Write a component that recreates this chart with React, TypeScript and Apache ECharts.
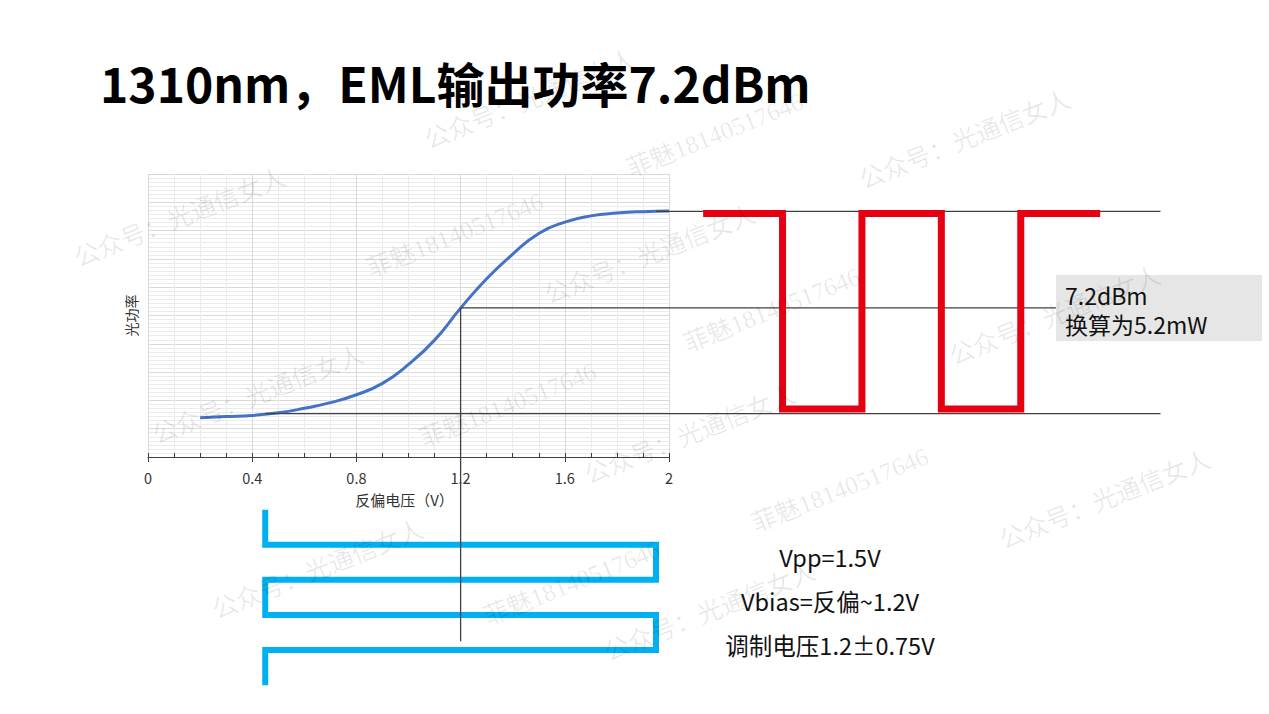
import React, { useEffect, useRef } from "react";
import * as echarts from "echarts";

// ---------- text ----------
const TITLE = "1310nm，EML输出功率7.2dBm";
const X_NAME = "反偏电压（V）";
const Y_NAME = "光功率";
const BOX_LINES = ["7.2dBm", "换算为5.2mW"];
const NOTE_LINES = ["Vpp=1.5V", "Vbias=反偏~1.2V", "调制电压1.2±0.75V"];
const WM_A = "公众号：光通信女人";
const WM_B = "菲魅18140517646";

// ---------- data ----------
// EML transfer curve: reverse bias (V) -> optical power (linear, arbitrary units)
const CURVE_V = [0.2, 0.3, 0.4, 0.5, 0.6, 0.7, 0.8, 0.9, 1.0, 1.1, 1.2, 1.3, 1.4, 1.5, 1.6, 1.7, 1.8, 1.9, 2.0];
const CURVE_P = [1.39, 1.43, 1.47, 1.56, 1.72, 1.92, 2.2, 2.6, 3.27, 4.13, 5.26, 6.3, 7.17, 7.9, 8.3, 8.52, 8.62, 8.67, 8.69];

const X_MIN = 0;
const X_MAX = 2;
const X_INTERVAL = 0.4;
const Y_MIN = 0;
const Y_MAX = 10;

// drive levels (V) and resulting power levels
const V_LOW = 0.45;
const V_BIAS = 1.2;
const V_HIGH = 1.95;
const P_HIGH = 8.68;
const P_MID = 5.27;
const P_LOW = 1.53;

// bit pattern of the waveforms (1 = high optical power)
const BITS = [1, 0, 1, 0, 1];
const RED_HIGH = 8.6;
const RED_LOW = 1.7;

// time-axis extents (in bit periods)
const T_RED_MIN = -0.43;
const T_RED_MAX = 5.76;
const T_BLUE_MIN = -1.5;
const T_BLUE_MAX = 5.2;
const T_CROSS_END = 3.75;

// ---------- layout (pixels) ----------
const WATERMARKS: [string, number, number][] = [
  [WM_A, 180, 218], [WM_A, 258, 395], [WM_A, 318, 570],
  [WM_A, 650, 255], [WM_A, 690, 435], [WM_A, 710, 612],
  [WM_A, 965, 140], [WM_A, 1055, 316], [WM_A, 1105, 500], [WM_A, 530, 100],
  [WM_B, 455, 235], [WM_B, 508, 405], [WM_B, 572, 583],
  [WM_B, 715, 135], [WM_B, 772, 310], [WM_B, 840, 490],
];

const FONT = '"Noto Sans CJK SC", "Noto Sans", sans-serif';
const BLACK_LINE = { color: "#404040", width: 1.3 };

const step = (levels: number[]) => levels.flatMap((v, i) => [[i, v], [i + 1, v]]);

function buildOption(): echarts.EChartsOption {
  const curve = CURVE_V.map((v, i) => [v, CURVE_P[i]]);
  const red = step(BITS.map((b) => (b ? RED_HIGH : RED_LOW)));
  const blue = step(BITS.map((b) => (b ? V_LOW : V_HIGH))).map(([t, v]) => [v, t]);

  const wm = WATERMARKS.map(([text, x, y]) => ({
    type: "text",
    x,
    y,
    rotation: 0.38,
    z: 200,
    silent: true,
    style: {
      text,
      fill: "rgba(0,0,0,0.09)",
      font: `25px "Liberation Serif", "Noto Sans CJK SC", serif`,
      align: "center",
      verticalAlign: "middle",
    },
  }));

  return {
    animation: false,
    backgroundColor: "#ffffff",
    textStyle: { fontFamily: FONT },
    grid: [
      { left: 148, top: 174, width: 521, height: 283, containLabel: false, outerBoundsMode: "none" } as any,
      { left: 669, top: 174, width: 491.5, height: 283, containLabel: false, outerBoundsMode: "none" } as any,
      { left: 148, top: 457, width: 521, height: 235.2, containLabel: false, outerBoundsMode: "none" } as any,
    ],
    xAxis: [
      {
        type: "value",
        gridIndex: 0,
        position: "bottom",
        min: X_MIN,
        max: X_MAX,
        interval: X_INTERVAL,
        name: X_NAME,
        nameLocation: "middle",
        nameGap: 35,
        nameMoveOverlap: false,
        nameTextStyle: { fontSize: 15, color: "#333333", fontFamily: FONT, padding: [0, 8, 0, 0] },
        axisLine: { show: true, lineStyle: { color: "#404040", width: 1 } },
        axisTick: { show: true, inside: true, length: 4, lineStyle: { color: "#404040" } },
        minorTick: { show: true, splitNumber: 4, length: 4, lineStyle: { color: "#404040" } },
        axisLabel: { show: true, fontSize: 14.5, color: "#333333", margin: 13, fontFamily: FONT },
        splitLine: { show: true, lineStyle: { color: "#d9d9d9", width: 1 } },
        minorSplitLine: { show: true, lineStyle: { color: "#ececec", width: 1 } },
      } as any,
      {
        type: "value",
        gridIndex: 0,
        position: "bottom",
        offset: 0,
        min: X_MIN,
        max: X_MAX,
        interval: X_INTERVAL,
        axisLine: { show: false },
        axisTick: { show: true, inside: false, length: 5, lineStyle: { color: "#404040" } },
        axisLabel: { show: false },
        splitLine: { show: false },
      },
      { type: "value", gridIndex: 1, min: T_RED_MIN, max: T_RED_MAX, show: false },
      { type: "value", gridIndex: 2, min: X_MIN, max: X_MAX, show: false },
    ],
    yAxis: [
      {
        type: "value",
        gridIndex: 0,
        min: Y_MIN,
        max: Y_MAX,
        interval: 1,
        name: Y_NAME,
        nameLocation: "middle",
        nameGap: 10,
        nameMoveOverlap: false,
        nameTextStyle: { fontSize: 14, color: "#333333", fontFamily: FONT },
        axisLine: { show: false },
        axisTick: { show: false },
        axisLabel: { show: false },
        minorTick: { show: false, splitNumber: 7 },
        splitLine: { show: true, lineStyle: { color: "#d9d9d9", width: 1 } },
        minorSplitLine: { show: true, lineStyle: { color: "#ececec", width: 1 } },
      } as any,
      { type: "value", gridIndex: 1, min: Y_MIN, max: Y_MAX, show: false },
      { type: "value", gridIndex: 2, min: T_BLUE_MIN, max: T_BLUE_MAX, inverse: true, show: false },
    ],
    series: [
      {
        type: "line",
        name: "transfer",
        xAxisIndex: 0,
        yAxisIndex: 0,
        data: curve,
        smooth: 0.5,
        showSymbol: false,
        lineStyle: { color: "#4472c4", width: 3 },
        z: 3,
      },
      {
        type: "line",
        xAxisIndex: 0,
        yAxisIndex: 0,
        data: [[V_LOW, P_LOW], [X_MAX, P_LOW]],
        showSymbol: false,
        lineStyle: BLACK_LINE,
        z: 4,
      },
      {
        type: "line",
        xAxisIndex: 0,
        yAxisIndex: 0,
        data: [[V_BIAS, Y_MIN], [V_BIAS, P_MID], [X_MAX, P_MID]],
        showSymbol: false,
        lineStyle: BLACK_LINE,
        z: 4,
      },
      {
        type: "line",
        xAxisIndex: 0,
        yAxisIndex: 0,
        data: [[V_HIGH, P_HIGH], [X_MAX, P_HIGH]],
        showSymbol: false,
        lineStyle: BLACK_LINE,
        z: 4,
      },
      ...[P_HIGH, P_MID, P_LOW].map((p) => ({
        type: "line" as const,
        xAxisIndex: 2,
        yAxisIndex: 1,
        data: [[T_RED_MIN, p], [T_RED_MAX, p]],
        showSymbol: false,
        lineStyle: BLACK_LINE,
        z: 4,
      })),
      {
        type: "line",
        name: "optical",
        xAxisIndex: 2,
        yAxisIndex: 1,
        data: red,
        showSymbol: false,
        lineStyle: { color: "#e60012", width: 7, cap: "butt", join: "miter" },
        z: 5,
      },
      {
        type: "line",
        name: "drive",
        xAxisIndex: 3,
        yAxisIndex: 2,
        data: blue,
        showSymbol: false,
        lineStyle: { color: "#00b0f0", width: 6, cap: "butt", join: "miter" },
        z: 5,
      },
      {
        type: "line",
        xAxisIndex: 3,
        yAxisIndex: 2,
        data: [[V_BIAS, T_BLUE_MIN], [V_BIAS, T_CROSS_END]],
        showSymbol: false,
        lineStyle: BLACK_LINE,
        z: 6,
      },
    ],
    graphic: [
      {
        type: "text",
        x: 100,
        y: 82,
        z: 100,
        style: {
          text: TITLE,
          fill: "#000000",
          font: `bold 48px ${FONT}`,
          align: "left",
          verticalAlign: "middle",
        },
      },
      {
        type: "rect",
        shape: { x: 1056, y: 275, width: 206, height: 66 },
        style: { fill: "#e6e6e6" },
        z: 100,
      },
      ...BOX_LINES.map((t, i) => ({
        type: "text",
        x: 1065,
        y: 295 + i * 29,
        z: 101,
        style: { text: t, fill: "#111111", font: `23px ${FONT}`, align: "left", verticalAlign: "middle" },
      })),
      ...NOTE_LINES.map((t, i) => ({
        type: "text",
        x: 830,
        y: 557 + i * 44,
        z: 101,
        style: { text: t, fill: "#111111", font: `23.5px ${FONT}`, align: "center", verticalAlign: "middle" },
      })),
      ...wm,
    ] as any,
  };
}

export default function App() {
  const ref = useRef<HTMLDivElement>(null);
  useEffect(() => {
    if (!ref.current) return;
    const chart = echarts.init(ref.current, null, { renderer: "svg" });
    chart.setOption(buildOption());
    return () => chart.dispose();
  }, []);
  return (
    <div
      ref={ref}
      style={{ position: "fixed", left: 0, top: 0, width: 1269, height: 714, background: "#ffffff" }}
    />
  );
}
